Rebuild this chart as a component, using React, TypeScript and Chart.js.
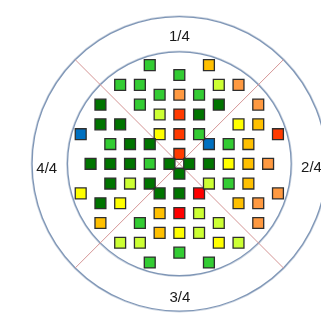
import React, { useEffect, useRef } from "react";
import { Chart, registerables } from "chart.js";

Chart.register(...registerables);

// Test point grid positions (lattice units) and level codes
const sqX = [
  3, 4, 6, 2, 4, 8, 2, 6, 8, 2, 10, 3, 5, 7,
  -3, -6, -4, -2, -8, -4, -2, -8, -6, -10, -2, -7, -5, -3,
  3, 5, 7, 10, 2, 6, 8, 2, 4, 8, 2, 4, 6, 3,
  -7, -5, -3, -10, -2, -8, -6, -2, -8, -4, -2, -6, -4, -3,
  0, 0, 0, 0, 0, 0, 0, 0, 0, 0,
  -9, -7, -5, -3, -1, 1, 3, 5, 7, 9,
];
const sqY = [
  10, 8, 8, 7, 6, 6, 5, 4, 4, 3, 3, 2, 2, 2,
  10, 8, 8, 7, 6, 6, 5, 4, 4, 3, 3, 2, 2, 2,
  -2, -2, -2, -3, -3, -4, -4, -5, -6, -6, -7, -8, -8, -10,
  -2, -2, -2, -3, -3, -4, -4, -5, -6, -6, -7, -8, -8, -10,
  9, 7, 5, 3, 1, -1, -3, -5, -7, -9,
  0, 0, 0, 0, 0, 0, 0, 0, 0, 0,
];
const sqLevel = [
  "GD", "YG", "OR", "LG", "DG", "OR", "DG", "Y", "GD", "LG", "RO", "B", "LG", "GD",
  "LG", "LG", "LG", "LG", "DG", "LG", "YG", "DG", "DG", "B", "Y", "LG", "DG", "DG",
  "YG", "LG", "GD", "OR", "R", "GD", "OR", "YG", "YG", "OR", "YG", "Y", "YG", "LG",
  "DG", "YG", "DG", "Y", "DG", "DG", "Y", "GD", "GD", "LG", "GD", "YG", "YG", "LG",
  "LG", "OR", "RO", "RO", "RO", "DG", "DG", "R", "Y", "LG",
  "DG", "DG", "DG", "LG", "DG", "DG", "DG", "Y", "GD", "OR",
];
const levels = ["DG", "LG", "YG", "Y", "GD", "OR", "RO", "R", "B"];
const levelColors = ["#007400", "#33cc33", "#ccff33", "#ffff00", "#ffc000", "#ff9940", "#ff3a00", "#ff0000", "#0070c0"];

// Sector labels
const sectorLabels = ["1/4", "2/4", "3/4", "4/4"];
const sectorLabelX = [0, 13.4, 0.05, -13.44];
const sectorLabelY = [13.0, -0.25, -13.5, -0.38];

// Rings (radius in lattice units) and diagonal meridians
const ringRadii = [14.93, 11.34];
const diagEnd = 10.56;

export default function App() {
  const ref = useRef<HTMLCanvasElement>(null);
  useEffect(() => {
    if (!ref.current) return;
    const datasets: any[] = levels.map((lv, k) => ({
      label: lv,
      type: "scatter",
      data: sqX
        .map((x, idx) => ({ x, y: sqY[idx], lv: sqLevel[idx] }))
        .filter((p) => p.lv === lv)
        .map((p) => ({ x: p.x, y: p.y })),
      pointStyle: "rect",
      pointRadius: 7.7,
      pointBackgroundColor: levelColors[k],
      pointBorderColor: "#2e2e2e",
      pointBorderWidth: 1.3,
      order: 1,
    }));
    datasets.push({
      label: "d1",
      type: "line",
      data: [{ x: -diagEnd, y: diagEnd }, { x: diagEnd, y: -diagEnd }],
      borderColor: "#d49494",
      borderWidth: 1,
      pointRadius: 0,
      order: 10,
    });
    datasets.push({
      label: "d2",
      type: "line",
      data: [{ x: -diagEnd, y: -diagEnd }, { x: diagEnd, y: diagEnd }],
      borderColor: "#d49494",
      borderWidth: 1,
      pointRadius: 0,
      order: 10,
    });

    const decor = {
      id: "decor",
      beforeDatasetsDraw(chart: any) {
        const { ctx, scales } = chart;
        const xs = scales.x, ys = scales.y;
        const cx = xs.getPixelForValue(0), cy = ys.getPixelForValue(0);
        ctx.save();
        ringRadii.forEach((r) => {
          const rp = xs.getPixelForValue(r) - cx;
          ctx.beginPath();
          ctx.arc(cx, cy, rp + 0.8, 0, Math.PI * 2);
          ctx.strokeStyle = "rgba(170,185,205,0.6)";
          ctx.lineWidth = 1.2;
          ctx.stroke();
          ctx.beginPath();
          ctx.arc(cx, cy, rp, 0, Math.PI * 2);
          ctx.strokeStyle = "#7f96b6";
          ctx.lineWidth = 1.3;
          ctx.stroke();
        });
        ctx.fillStyle = "#1a1a1a";
        ctx.font = "15px 'Liberation Sans', Arial, sans-serif";
        ctx.textAlign = "center";
        ctx.textBaseline = "alphabetic";
        sectorLabels.forEach((t, i) => {
          ctx.fillText(t, xs.getPixelForValue(sectorLabelX[i]), ys.getPixelForValue(sectorLabelY[i]) + 5.3);
        });
        ctx.restore();
      },
    };

    const chart = new Chart(ref.current, {
      type: "scatter",
      data: { datasets },
      options: {
        animation: false,
        responsive: false,
        devicePixelRatio: 1,
        layout: { padding: 0 },
        scales: {
          x: { type: "linear", min: -17.27, max: 13.45, display: false },
          y: { type: "linear", min: -15.12, max: 15.69, display: false },
        },
        plugins: { legend: { display: false }, tooltip: { enabled: false } },
      },
      plugins: [decor],
    } as any);
    return () => chart.destroy();
  }, []);
  return (
    <div style={{ position: "absolute", left: 0, top: 0, width: 321, height: 322, background: "#fff" }}>
      <canvas ref={ref} width={321} height={322} style={{ display: "block" }} />
    </div>
  );
}
